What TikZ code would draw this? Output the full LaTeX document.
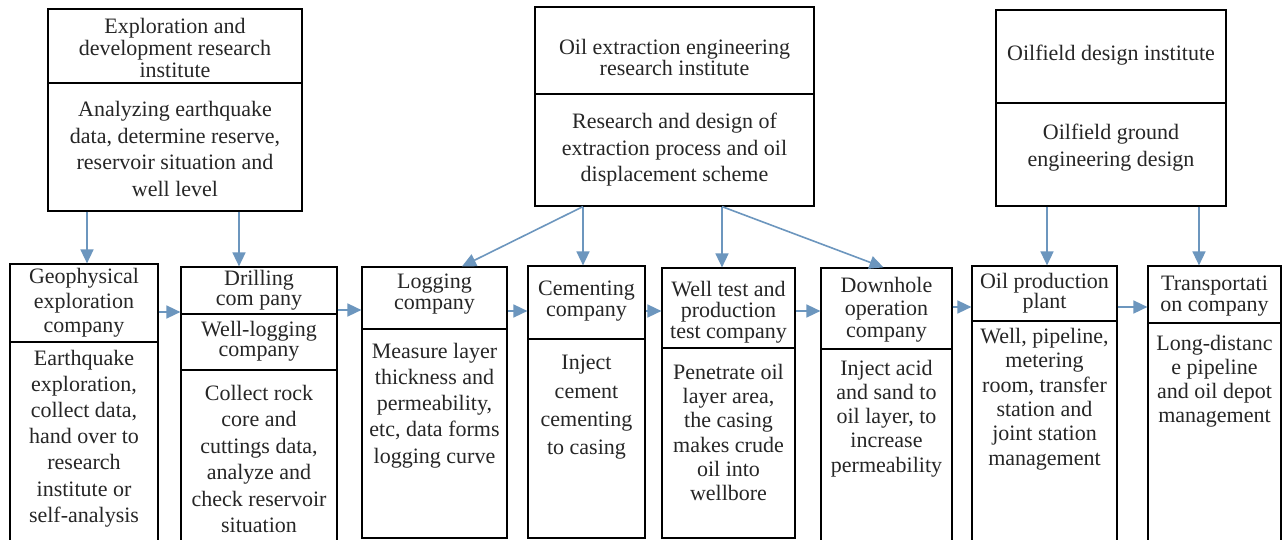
\documentclass[tikz,border=0pt]{standalone}
\usepackage{fontspec}
\setmainfont{Liberation Serif}
\usetikzlibrary{arrows.meta,calc}
\definecolor{arrblue}{RGB}{108,150,190}
\tikzset{
  cell/.style={draw=black, line width=1.2pt, inner sep=0pt, fill=none},
  txt/.style={align=center, inner sep=0pt, text=black!85},
  arr/.style={draw=arrblue, line width=1.6pt, -{Triangle[length=14pt,width=13pt]}},
}
\newcommand{\fs}[1]{\fontsize{22}{#1}\selectfont}
\begin{document}
\begin{tikzpicture}[x=1pt,y=-1pt]
\useasboundingbox (0,0) rectangle (1282,540);
\clip (0,0) rectangle (1282,540);
\fill[white] (0,0) rectangle (1282,540);

% ---- top institutes
\node[cell, minimum width=254, minimum height=74] (Ahead) at (175,46) {};
\node[cell, minimum width=254, minimum height=128] (Abody) at (175,147) {};
\node[txt, font=\fs{22}] (Aht) at (175,48) {Exploration and\\development research\\institute};
\node[txt, font=\fs{26.5}] (Abt) at (175,149) {Analyzing earthquake\\data, determine reserve,\\reservoir situation and\\well level};

\node[cell, minimum width=279, minimum height=87] (Bhead) at (674.5,50.5) {};
\node[cell, minimum width=279, minimum height=112] (Bbody) at (674.5,150) {};
\node[txt, font=\fs{21}] (Bht) at (674.5,57) {Oil extraction engineering\\research institute};
\node[txt, font=\fs{26.5}] (Bbt) at (674.5,150) {Research and design of\\extraction process and oil\\displacement scheme};

\node[cell, minimum width=230, minimum height=93] (Chead) at (1111,56.5) {};
\node[cell, minimum width=230, minimum height=103] (Cbody) at (1111,154.5) {};
\node[txt, font=\fs{22}] (Cht) at (1111,55) {Oilfield design institute};
\node[txt, font=\fs{27}] (Cbt) at (1111,148) {Oilfield ground\\engineering design};

% ---- companies
\node[cell, minimum width=148, minimum height=78] (geoH) at (84,303) {};
\node[cell, minimum width=148, minimum height=218] (geoB) at (84,451) {};
\node[txt, font=\fs{24.5}] (geoHt) at (84,303) {Geophysical\\exploration\\company};
\node[txt, font=\fs{26.2}] (geoBt) at (84,438.5) {Earthquake\\exploration,\\collect data,\\hand over to\\research\\institute or\\self-analysis};

\node[cell, minimum width=156, minimum height=47] (drH) at (259,290.5) {};
\node[cell, minimum width=156, minimum height=56] (wlH) at (259,342) {};
\node[cell, minimum width=156, minimum height=190] (drB) at (259,465) {};
\node[txt, font=\fs{20.5}] (drHt) at (259,290) {Drilling\\com pany};
\node[txt, font=\fs{20.5}] (wlHt) at (259,341) {Well-logging\\company};
\node[txt, font=\fs{26.4}] (drBt) at (259,459) {Collect rock\\core and\\cuttings data,\\analyze and\\check reservoir\\situation};

\node[cell, minimum width=145, minimum height=62] (logH) at (434.5,298) {};
\node[cell, minimum width=145, minimum height=209] (logB) at (434.5,433.5) {};
\node[txt, font=\fs{20.5}] (logHt) at (434.5,294) {Logging\\company};
\node[txt, font=\fs{26.2}] (logBt) at (434.5,405.5) {Measure layer\\thickness and\\permeability,\\etc, data forms\\logging curve};

\node[cell, minimum width=117, minimum height=73] (cemH) at (586.5,302.5) {};
\node[cell, minimum width=117, minimum height=199] (cemB) at (586.5,438.5) {};
\node[txt, font=\fs{20.5}] (cemHt) at (586.5,301) {Cementing\\company};
\node[txt, font=\fs{28.3}] (cemBt) at (586.5,407.5) {Inject\\cement\\cementing\\to casing};

\node[cell, minimum width=133, minimum height=80] (wtH) at (728.5,308) {};
\node[cell, minimum width=133, minimum height=190] (wtB) at (728.5,443) {};
\node[txt, font=\fs{21}] (wtHt) at (728.5,312) {Well test and\\production\\test company};
\node[txt, font=\fs{24.2}] (wtBt) at (728.5,432.5) {Penetrate oil\\layer area,\\the casing\\makes crude\\oil into\\wellbore};

\node[cell, minimum width=131, minimum height=81] (dhH) at (886.5,308.5) {};
\node[cell, minimum width=131, minimum height=211] (dhB) at (886.5,454.5) {};
\node[txt, font=\fs{22.5}] (dhHt) at (886.5,310) {Downhole\\operation\\company};
\node[txt, font=\fs{24.2}] (dhBt) at (886.5,418.5) {Inject acid\\and sand to\\oil layer, to\\increase\\permeability};

\node[cell, minimum width=145, minimum height=55] (opH) at (1044.5,293.5) {};
\node[cell, minimum width=145, minimum height=239] (opB) at (1044.5,440.5) {};
\node[txt, font=\fs{20.5}] (opHt) at (1044.5,293) {Oil production\\plant};
\node[txt, font=\fs{24.4}] (opBt) at (1044.5,399) {Well, pipeline,\\metering\\room, transfer\\station and\\joint station\\management};

\node[cell, minimum width=133, minimum height=237] (trB) at (1214.5,441.5) {};
\node[cell, minimum width=133, minimum height=57] (trH) at (1214.5,294.5) {};
\node[txt, font=\fs{20.5}] (trHt) at (1214.5,296) {Transportati\\on company};
\node[txt, font=\fs{24}] (trBt) at (1214.5,381) {Long-distanc\\e pipeline\\and oil depot\\management};

% ---- arrows from institutes
\coordinate (a1) at ([xshift=-88]Abody.south);
\coordinate (a2) at ([xshift=64]Abody.south);
\coordinate (b1) at ([xshift=-91.5]Bbody.south);
\coordinate (b2) at ([xshift=47.5]Bbody.south);
\coordinate (c1) at ([xshift=-64]Cbody.south);
\coordinate (c2) at ([xshift=88]Cbody.south);
\draw[arr] (a1) -- (a1 |- geoH.north);
\draw[arr] (a2) -- (a2 |- drH.north);
\draw[arr] (b1) -- ([xshift=27.5]logH.north);
\draw[arr] (b1) -- (b1 |- cemH.north);
\draw[arr] (b2) -- (b2 |- wtH.north);
\draw[arr] (b2) -- ([xshift=-3]dhH.north);
\draw[arr] (c1) -- (c1 |- opH.north);
\draw[arr] (c2) -- (c2 |- trH.north);

% ---- chain arrows
\coordinate (y312) at (0,312);
\coordinate (y310) at (0,310);
\coordinate (y311) at (0,311);
\coordinate (y307) at (0,307);
\draw[arr] (geoH.east |- y312) -- (drH.west |- y312);
\draw[arr] (drH.east |- y310) -- (logH.west |- y310);
\draw[arr] (logH.east |- y311) -- (cemH.west |- y311);
\draw[arr] (cemH.east |- y311) -- (wtH.west |- y311);
\draw[arr] (wtH.east |- y311) -- (dhH.west |- y311);
\draw[arr] (dhH.east |- y307) -- (opH.west |- y307);
\draw[arr] (opH.east |- y307) -- (trH.west |- y307);
\end{tikzpicture}
\end{document}
